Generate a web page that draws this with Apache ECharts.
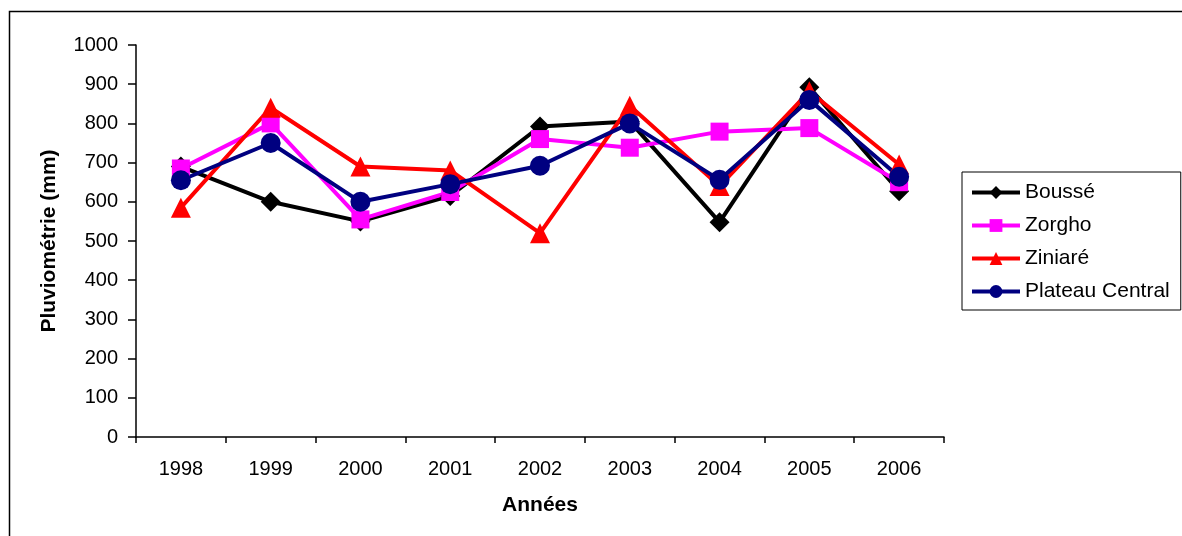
<!DOCTYPE html>
<html>
<head>
<meta charset="utf-8">
<script src="https://cdn.jsdelivr.net/npm/echarts@6/dist/echarts.min.js"></script>
<style>
html,body{margin:0;padding:0;background:#fff;}
#chart{width:1182px;height:536px;}
</style>
</head>
<body>
<div id="chart"></div>
<script>
const years = ['1998','1999','2000','2001','2002','2003','2004','2005','2006'];
const bousse = [690, 600, 550, 615, 792, 805, 548, 892, 627];
const zorgho = [685, 800, 555, 625, 760, 738, 779, 788, 650];
const ziniare = [585, 840, 690, 680, 520, 845, 640, 882, 695];
const plateau = [655, 750, 600, 645, 692, 800, 656, 860, 664];
const yTicks = { min: 0, max: 1000, interval: 100 };

const FONT = '"Liberation Sans", Arial, sans-serif';
const chart = echarts.init(document.getElementById('chart'));

function mk(name, data, color, symbol, size) {
  return {
    name: name, type: 'line', data: data,
    symbol: symbol, symbolSize: size,
    lineStyle: { color: color, width: 4 },
    itemStyle: { color: color },
    emphasis: { disabled: true },
    animation: false
  };
}

chart.setOption({
  animation: false,
  backgroundColor: '#fff',
  graphic: [{
    type: 'rect', left: 7, top: 9, shape: { width: 1200, height: 600 },
    style: { fill: 'none', stroke: '#000', lineWidth: 1.5 }, silent: true, z: -1
  }],
  grid: { left: 136, right: 238, top: 45, bottom: 99 },
  legend: {
    orient: 'vertical', left: 962, top: 172,
    padding: [10, 11, 8, 8],
    borderColor: '#000', borderWidth: 1,
    itemWidth: 48, itemHeight: 16, itemGap: 12,
    lineStyle: { width: 4 },
    textStyle: { fontFamily: FONT, fontSize: 21, color: '#000' },
    data: ['Boussé', 'Zorgho', 'Ziniaré', 'Plateau Central']
  },
  xAxis: {
    type: 'category', data: years, boundaryGap: true,
    name: 'Années', nameLocation: 'middle', nameGap: 58,
    nameTextStyle: { fontFamily: FONT, fontSize: 21, fontWeight: 'bold', color: '#000' },
    axisLine: { lineStyle: { color: '#000', width: 1.5 } },
    axisTick: { show: true, length: 6, lineStyle: { color: '#000', width: 1.5 } },
    axisLabel: { fontFamily: FONT, fontSize: 20, color: '#000', margin: 22 },
    splitLine: { show: false }
  },
  yAxis: {
    type: 'value', min: yTicks.min, max: yTicks.max, interval: yTicks.interval,
    name: 'Pluviométrie (mm)', nameLocation: 'middle', nameGap: 76,
    nameTextStyle: { fontFamily: FONT, fontSize: 21, fontWeight: 'bold', color: '#000' },
    axisLine: { show: true, lineStyle: { color: '#000', width: 1.5 } },
    axisTick: { show: true, length: 8, lineStyle: { color: '#000', width: 1.5 } },
    axisLabel: { fontFamily: FONT, fontSize: 20, color: '#000', margin: 18, formatter: function (v) { return String(v); } },
    splitLine: { show: false }
  },
  series: [
    mk('Boussé', bousse, '#000000', 'diamond', 20),
    mk('Zorgho', zorgho, '#FF00FF', 'rect', 18),
    mk('Ziniaré', ziniare, '#FF0000', 'triangle', 20),
    mk('Plateau Central', plateau, '#000080', 'circle', 20)
  ]
});
</script>
</body>
</html>
